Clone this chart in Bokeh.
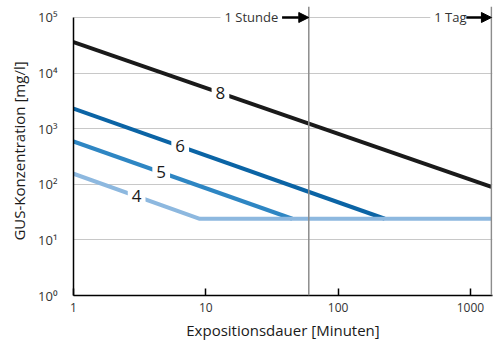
import math

from bokeh.plotting import figure
from bokeh.models import FixedTicker, Span, Label, Arrow, NormalHead, Range1d
from bokeh.embed import file_html
from bokeh.resources import INLINE

# Exposure time [min] and GUS concentration [mg/l] for each curve
t4 = [1, 9, 1440]
c4 = [155, 24, 24]
t5 = [1, 45]
c5 = [590, 24]
t6 = [1, 225]
c6 = [2300, 24]
t8 = [1, 1440]
c8 = [36000, 90]

curve_names = ["8", "6", "5", "4"]
# time at which each curve carries its name
name_times = [12.9, 6.4, 4.6, 3.0]

# Reference durations [min]
hour = 60
day = 1440

x_ticks = [1, 10, 100, 1000]
x_tick_labels = ["1", "10", "100", "1000"]
y_ticks = [1, 10, 100, 1000, 10000, 100000]
y_tick_labels = ["10⁰", "10¹", "10²", "10³", "10⁴", "10⁵"]

FONT = "Open Sans"
TXT = "#1a1a1a"
TICK = "#333333"

p = figure(
    width=499, height=344,
    x_axis_type="log", y_axis_type="log",
    x_range=Range1d(1, 1467), y_range=Range1d(1, 157700),
    output_backend="svg", toolbar_location=None,
    min_border_left=73, min_border_right=7,
    min_border_top=6, min_border_bottom=49,
)
p.outline_line_color = None
p.background_fill_color = "white"
p.border_fill_color = "white"

# axes
p.xaxis.ticker = FixedTicker(ticks=x_ticks)
p.xaxis.major_label_overrides = dict(zip(x_ticks, x_tick_labels))
p.xaxis.major_tick_in = 7
p.xaxis.major_tick_out = 0
p.xaxis.major_tick_line_color = "black"
p.xaxis.major_tick_line_width = 1.5
p.xaxis.minor_tick_line_color = None
p.xaxis.axis_line_color = "black"
p.xaxis.axis_line_width = 1.5
p.xaxis.major_label_standoff = 7
p.xaxis.major_label_text_font = FONT
p.xaxis.major_label_text_font_size = "12px"
p.xaxis.major_label_text_color = TICK
p.xaxis.axis_label = "Expositionsdauer [Minuten]"
p.xaxis.axis_label_text_font = FONT
p.xaxis.axis_label_text_font_size = "15px"
p.xaxis.axis_label_text_font_style = "normal"
p.xaxis.axis_label_text_color = TXT
p.xaxis.axis_label_standoff = 5

p.yaxis.ticker = FixedTicker(ticks=y_ticks)
p.yaxis.major_label_overrides = dict(zip(y_ticks, y_tick_labels))
p.yaxis.bounds = (1, 100000)
p.yaxis.major_tick_line_color = None
p.yaxis.minor_tick_line_color = None
p.yaxis.axis_line_color = "black"
p.yaxis.axis_line_width = 1.5
p.yaxis.major_label_standoff = 10
p.yaxis.major_label_text_font = FONT
p.yaxis.major_label_text_font_size = "13px"
p.yaxis.major_label_text_color = TICK
p.yaxis.axis_label = "GUS-Konzentration [mg/l]"
p.yaxis.axis_label_text_font = FONT
p.yaxis.axis_label_text_font_size = "15px"
p.yaxis.axis_label_text_font_style = "normal"
p.yaxis.axis_label_text_color = TXT
p.yaxis.axis_label_standoff = 6

p.xgrid.grid_line_color = None
p.ygrid.grid_line_color = "#c8c8c8"
p.ygrid.grid_line_width = 1

# reference durations: one hour and one day
for t in (hour, day):
    p.add_layout(Span(location=t, dimension="height",
                      line_color="#8c8c8c", line_width=1.5))

# curves
curves = {
    "8": (t8, c8, "#1a1a1a"),
    "6": (t6, c6, "#0b64a5"),
    "5": (t5, c5, "#2e86c3"),
    "4": (t4, c4, "#8db8df"),
}
for name in curve_names:
    t, c, col = curves[name]
    p.line(t, c, line_color=col, line_width=4, line_cap="butt")


def on_curve(t, c, x):
    """Concentration on a polyline (log-log) at time x."""
    lx = math.log10(x)
    for i in range(len(t) - 1):
        a, b = math.log10(t[i]), math.log10(t[i + 1])
        if a <= lx <= b:
            f = (lx - a) / (b - a)
            return 10 ** (math.log10(c[i]) + f * (math.log10(c[i + 1]) - math.log10(c[i])))
    return c[-1]


# curve names, set in a white box that breaks the line
for name, tx in zip(curve_names, name_times):
    t, c, _ = curves[name]
    p.add_layout(Label(
        x=tx, y=on_curve(t, c, tx), text=name,
        text_align="center", text_baseline="middle",
        text_font=FONT, text_font_size="17px", text_color=TXT,
        background_fill_color="white", padding=4,
    ))

# "1 Stunde" / "1 Tag" markers along the top
for txt, x0, xa, xe in (("1 Stunde", 12.9, 37.7, hour), ("1 Tag", 497, 930, day)):
    p.add_layout(Label(
        x=x0, y=100000, text=txt,
        text_align="left", text_baseline="middle",
        text_font=FONT, text_font_size="13px", text_color=TICK,
        background_fill_color="white", padding=4,
    ))
    p.add_layout(Arrow(
        x_start=xa, y_start=100000, x_end=xe, y_end=100000,
        line_color="black", line_width=2.5,
        end=NormalHead(size=10, fill_color="black", line_color="black", line_width=1),
    ))

open("out.html", "w").write(file_html(p, INLINE))
